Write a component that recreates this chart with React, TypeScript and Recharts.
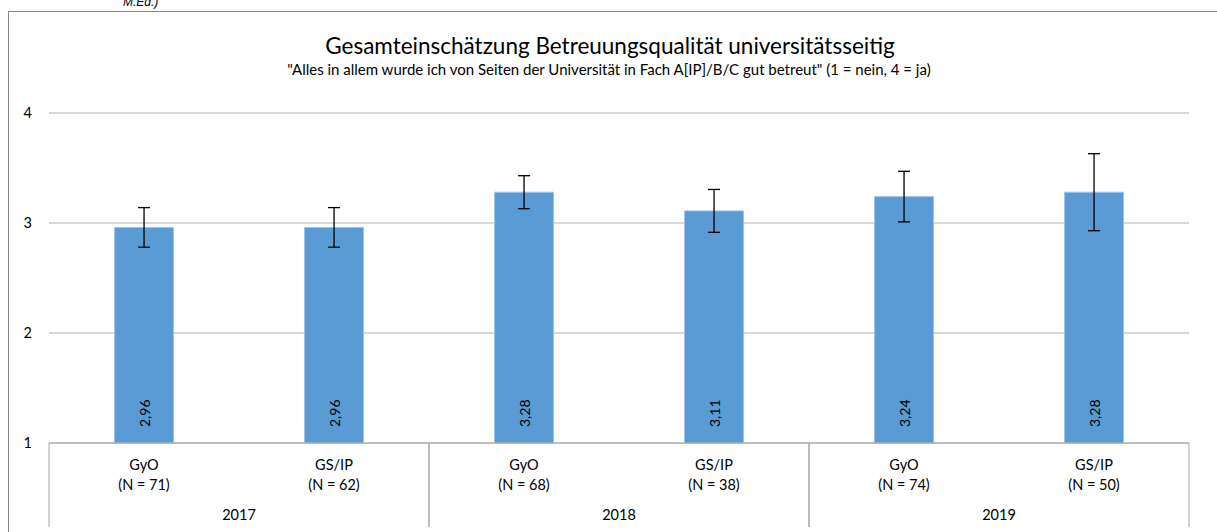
import { BarChart, Bar, XAxis, YAxis, CartesianGrid, ErrorBar, LabelList } from "recharts";

const FONT = "Lato, 'Open Sans', sans-serif";

const years = ["2017", "2017", "2018", "2018", "2019", "2019"];
const groups = ["GyO", "GS/IP", "GyO", "GS/IP", "GyO", "GS/IP"];
const sampleSizes = [71, 62, 68, 38, 74, 50];
const means = [2.96, 2.96, 3.28, 3.11, 3.24, 3.28];
const errors = [0.18, 0.18, 0.15, 0.195, 0.23, 0.35];
const yTicks = [1, 2, 3, 4];

const data = groups.map((g, i) => ({
  id: `${years[i]}-${g}`,
  mean: means[i],
  err: errors[i],
}));

function CategoryTick(props: any) {
  const { x, y, payload } = props;
  const i = data.findIndex((d) => d.id === payload.value);
  const half = payload.offset ?? 95;
  const odd = i % 2 === 1;
  const lineX = odd ? x + half : x - half;
  const txt = { fontFamily: FONT, fontSize: 14.5, fill: "#000", textAnchor: "middle" as const };
  return (
    <g>
      <text x={x} y={y + 27} {...txt}>{groups[i]}</text>
      <text x={x} y={y + 47} {...txt}>{`(N = ${sampleSizes[i]})`}</text>
      {odd ? (
        <text x={x - half} y={y + 77} {...txt}>{years[i]}</text>
      ) : null}
      <line x1={lineX} x2={lineX} y1={y} y2={y + 84} stroke="#a6a6a6" strokeWidth={1} />
    </g>
  );
}

function ValueLabel(props: any) {
  const { x, y, width, height, value } = props;
  const cx = x + width / 2;
  const by = y + height - 16;
  return (
    <text
      x={cx}
      y={by}
      transform={`rotate(-90 ${cx} ${by})`}
      textAnchor="start"
      dominantBaseline="central"
      fontFamily={FONT}
      fontSize={14}
      fill="#000"
    >
      {String(value.toFixed(2)).replace(".", ",")}
    </text>
  );
}

export default function App() {
  return (
    <div
      style={{
        position: "absolute",
        left: 0,
        top: 0,
        width: 1217,
        height: 532,
        overflow: "hidden",
        background: "#fff",
        fontFamily: FONT,
      }}
    >
      <span
        style={{
          position: "absolute",
          left: 123,
          top: -5,
          fontFamily: "'Liberation Sans', Arial, sans-serif",
          fontStyle: "italic",
          fontSize: 12,
          lineHeight: "14px",
          color: "#000",
        }}
      >
        M.Ed.)
      </span>
      <div
        style={{
          position: "absolute",
          left: 8,
          top: 11,
          width: 1260,
          height: 600,
          border: "1px solid #898989",
        }}
      />
      <div
        style={{
          position: "absolute",
          left: 0,
          top: 32,
          width: 1220,
          textAlign: "center",
          fontSize: 22.5,
          lineHeight: "27px",
          color: "#000",
        }}
      >
        Gesamteinschätzung Betreuungsqualität universitätsseitig
      </div>
      <div
        style={{
          position: "absolute",
          left: 0,
          top: 60,
          width: 1218,
          textAlign: "center",
          fontSize: 15,
          lineHeight: "18px",
          color: "#000",
        }}
      >
        "Alles in allem wurde ich von Seiten der Universität in Fach A[IP]/B/C gut betreut" (1 = nein, 4 = ja)
      </div>
      <div style={{ position: "absolute", left: 0, top: 0 }}>
        <BarChart
          width={1217}
          height={532}
          data={data}
          margin={{ top: 113, right: 28, left: 0, bottom: 0 }}
          barCategoryGap="34.5%"
        >
          <CartesianGrid vertical={false} stroke="#b3b3b3" />
          <XAxis
            dataKey="id"
            height={89}
            tickSize={0}
            tickMargin={0}
            interval={0}
            axisLine={{ stroke: "#a6a6a6" }}
            tick={<CategoryTick />}
          />
          <YAxis
            width={49}
            domain={[1, 4]}
            ticks={yTicks}
            tickSize={0}
            tickMargin={17}
            axisLine={false}
            tickLine={false}
            tick={{ fontFamily: FONT, fontSize: 14.5, fill: "#000" }}
          />
          <Bar dataKey="mean" fill="#5b9bd5" stroke="#9dc3e6" strokeWidth={1} isAnimationActive={false}>
            <ErrorBar dataKey="err" direction="y" width={6} stroke="#000" strokeWidth={1.3} isAnimationActive={false} />
            <LabelList dataKey="mean" content={<ValueLabel />} />
          </Bar>
        </BarChart>
      </div>
    </div>
  );
}
